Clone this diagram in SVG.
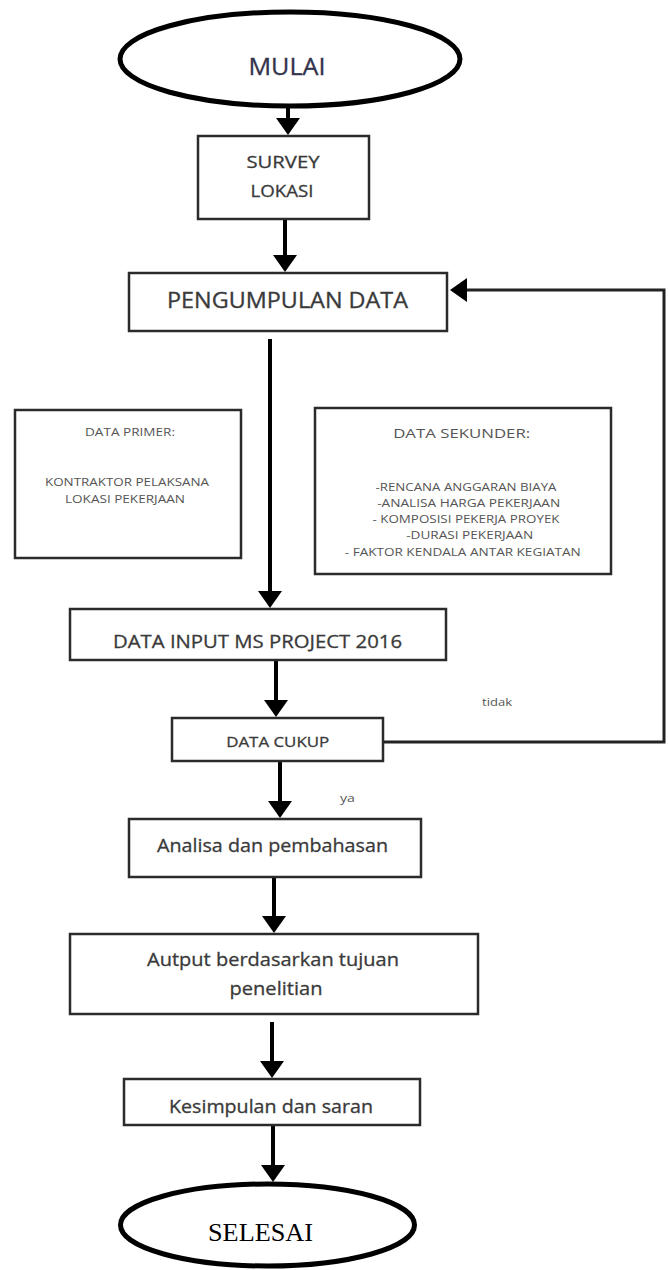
<svg xmlns="http://www.w3.org/2000/svg" width="668" height="1270" viewBox="0 0 668 1270">
<style>
.box{fill:#fff;stroke:#2b2b2b;stroke-width:2.5}
.term{fill:#fff;stroke:#000;stroke-width:5}
.t{font-family:"Open Sans","Liberation Sans",Arial,sans-serif;fill:#3a3a3a;text-anchor:middle;stroke:#3a3a3a;stroke-width:0.3}
.s{font-family:"Open Sans","Liberation Sans",Arial,sans-serif;fill:#555;text-anchor:middle;font-size:10px}
.c{fill:none;stroke:#000;stroke-width:4}
.fb{fill:none;stroke:#222;stroke-width:3}
</style>
<defs>
<marker id="ah" markerUnits="userSpaceOnUse" viewBox="0 0 17 24" markerWidth="17" markerHeight="24" refX="14" refY="12" orient="auto">
<path d="M0,0 L17,12 L0,24 Z" fill="#000"/>
</marker>
</defs>
<rect width="668" height="1270" fill="#fff"/>
<g id="connectors">
<line class="c" x1="288" y1="108" x2="288" y2="132" marker-end="url(#ah)"/>
<line class="c" x1="285" y1="220" x2="285" y2="269" marker-end="url(#ah)"/>
<line class="c" x1="270" y1="339" x2="270" y2="605" marker-end="url(#ah)"/>
<line class="c" x1="276" y1="661" x2="276" y2="714" marker-end="url(#ah)"/>
<line class="c" x1="280" y1="762" x2="280" y2="815" marker-end="url(#ah)"/>
<line class="c" x1="274" y1="878" x2="274" y2="930" marker-end="url(#ah)"/>
<line class="c" x1="272" y1="1022" x2="272" y2="1075" marker-end="url(#ah)"/>
<line class="c" x1="273" y1="1126" x2="273" y2="1179" marker-end="url(#ah)"/>
<polyline class="fb" points="384,742 664,742 664,290 453,290" marker-end="url(#ah)"/>
<text class="s" x="497" y="706" textLength="30" lengthAdjust="spacingAndGlyphs">tidak</text>
<text class="s" x="347.5" y="802" textLength="15" lengthAdjust="spacingAndGlyphs">ya</text>
</g>
<g id="mulai">
<ellipse class="term" cx="290" cy="59" rx="170" ry="47"/>
<text class="t" x="287" y="75" font-size="24" style="fill:#33334d;stroke:#33334d" textLength="77" lengthAdjust="spacingAndGlyphs">MULAI</text>
</g>
<g id="survey">
<rect class="box" x="198" y="136" width="171" height="83"/>
<text class="t" x="283" y="168" font-size="17" textLength="73" lengthAdjust="spacingAndGlyphs">SURVEY</text>
<text class="t" x="282" y="197" font-size="17" textLength="63" lengthAdjust="spacingAndGlyphs">LOKASI</text>
</g>
<g id="pengumpulan">
<rect class="box" x="129" y="273" width="318" height="58"/>
<text class="t" x="287.5" y="308" font-size="21" textLength="241" lengthAdjust="spacingAndGlyphs">PENGUMPULAN DATA</text>
</g>
<g id="data-primer">
<rect class="box" x="15" y="410" width="226" height="148"/>
<text class="s" x="130" y="436" textLength="90" lengthAdjust="spacingAndGlyphs">DATA PRIMER:</text>
<text class="s" x="127" y="486" textLength="164" lengthAdjust="spacingAndGlyphs">KONTRAKTOR PELAKSANA</text>
<text class="s" x="125" y="503" textLength="120" lengthAdjust="spacingAndGlyphs">LOKASI PEKERJAAN</text>
</g>
<g id="data-sekunder">
<rect class="box" x="315" y="408" width="296" height="166"/>
<text class="s" x="461.7" y="438" style="font-size:12.5px" textLength="137" lengthAdjust="spacingAndGlyphs">DATA SEKUNDER:</text>
<text class="s" x="466" y="491" textLength="181" lengthAdjust="spacingAndGlyphs">-RENCANA ANGGARAN BIAYA</text>
<text class="s" x="468.7" y="507" textLength="183" lengthAdjust="spacingAndGlyphs">-ANALISA HARGA PEKERJAAN</text>
<text class="s" x="466" y="523" textLength="187" lengthAdjust="spacingAndGlyphs">-  KOMPOSISI PEKERJA PROYEK</text>
<text class="s" x="469.7" y="539" textLength="127" lengthAdjust="spacingAndGlyphs">-DURASI PEKERJAAN</text>
<text class="s" x="462.8" y="556" textLength="236" lengthAdjust="spacingAndGlyphs">- FAKTOR KENDALA ANTAR KEGIATAN</text>
</g>
<g id="data-input">
<rect class="box" x="70" y="609" width="376" height="51"/>
<text class="t" x="257.5" y="648" font-size="19" textLength="289" lengthAdjust="spacingAndGlyphs">DATA INPUT MS PROJECT 2016</text>
</g>
<g id="data-cukup">
<rect class="box" x="172" y="718" width="211" height="43"/>
<text class="t" x="277.7" y="747" font-size="15" textLength="103" lengthAdjust="spacingAndGlyphs">DATA CUKUP</text>
</g>
<g id="analisa">
<rect class="box" x="129" y="819" width="292" height="58"/>
<text class="t" x="272.5" y="852" font-size="19" textLength="231" lengthAdjust="spacingAndGlyphs">Analisa dan pembahasan</text>
</g>
<g id="autput">
<rect class="box" x="70" y="934" width="408" height="80"/>
<text class="t" x="273" y="966" font-size="19" textLength="252" lengthAdjust="spacingAndGlyphs">Autput berdasarkan tujuan</text>
<text class="t" x="276" y="995" font-size="19" textLength="93" lengthAdjust="spacingAndGlyphs">penelitian</text>
</g>
<g id="kesimpulan">
<rect class="box" x="124" y="1079" width="296" height="46"/>
<text class="t" x="271" y="1113" font-size="18" textLength="204" lengthAdjust="spacingAndGlyphs">Kesimpulan dan saran</text>
</g>
<g id="selesai">
<ellipse class="term" cx="267.5" cy="1225" rx="147" ry="41"/>
<text x="260.5" y="1241" font-family="'Liberation Serif','Times New Roman',serif" font-size="26" fill="#000" text-anchor="middle" textLength="105" lengthAdjust="spacingAndGlyphs">SELESAI</text>
</g>
</svg>
